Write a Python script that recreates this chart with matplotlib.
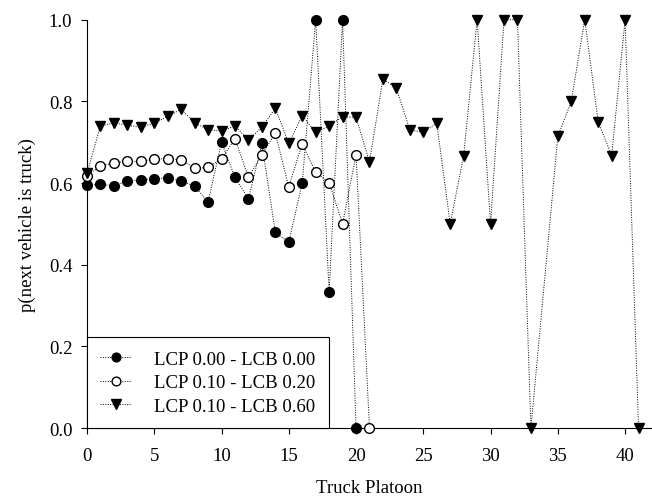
import matplotlib
matplotlib.use("Agg")
import matplotlib.pyplot as plt

plt.rcParams['font.family'] = ['Liberation Serif', 'DejaVu Serif']

# p(next vehicle is truck) per truck platoon size
x_lcp000 = list(range(0, 21))
p_lcp000 = [0.595, 0.597, 0.593, 0.605, 0.608, 0.610, 0.613, 0.604, 0.593, 0.553,
            0.700, 0.614, 0.561, 0.697, 0.479, 0.455, 0.600, 1.0, 0.333, 1.0, 0.0]

x_lcp010_020 = list(range(0, 22))
p_lcp010_020 = [0.618, 0.642, 0.649, 0.653, 0.653, 0.659, 0.659, 0.657, 0.636, 0.638,
                0.659, 0.709, 0.614, 0.669, 0.722, 0.591, 0.696, 0.626, 0.601, 0.500,
                0.669, 0.0]

x_lcp010_060 = list(range(0, 34)) + list(range(35, 42))
p_lcp010_060 = [0.624, 0.740, 0.747, 0.742, 0.736, 0.747, 0.763, 0.781, 0.747, 0.731,
                0.727, 0.740, 0.705, 0.737, 0.783, 0.697, 0.765, 0.724, 0.740, 0.762,
                0.761, 0.652, 0.855, 0.832, 0.730, 0.724, 0.747, 0.5, 0.667, 1.0,
                0.5, 1.0, 1.0, 0.0,
                0.714, 0.8, 1.0, 0.75, 0.667, 1.0, 0.0]

labels = ["LCP 0.00 - LCB 0.00", "LCP 0.10 - LCB 0.20", "LCP 0.10 - LCB 0.60"]

fig = plt.figure(figsize=(6.52, 5.02), dpi=100)
ax = fig.add_axes([0.1334, 0.1454, 0.8666, 0.8134])

line_kw = dict(linestyle=(0, (1, 1.5)), color='black', linewidth=0.7,
               clip_on=False, zorder=3)
ax.plot(x_lcp000, p_lcp000, marker='o', markersize=7, markerfacecolor='black',
        markeredgecolor='black', label=labels[0], **line_kw)
ax.plot(x_lcp010_020, p_lcp010_020, marker='o', markersize=7, markerfacecolor='white',
        markeredgecolor='black', label=labels[1], **line_kw)
ax.plot(x_lcp010_060, p_lcp010_060, marker='v', markersize=7.5, markerfacecolor='black',
        markeredgecolor='black', label=labels[2], **line_kw)

ax.set_xlim(0, 42)
ax.set_ylim(0, 1.0)
ax.set_xticks([0, 5, 10, 15, 20, 25, 30, 35, 40])
ax.set_yticks([0.0, 0.2, 0.4, 0.6, 0.8, 1.0])
ax.set_yticklabels(["0.0", "0.2", "0.4", "0.6", "0.8", "1.0"])

ax.spines['top'].set_visible(False)
ax.spines['right'].set_visible(False)
ax.tick_params(direction='out', length=4.5, width=0.8, labelsize=13.5)
ax.tick_params(axis='x', pad=9)
ax.tick_params(axis='y', pad=6)

ax.set_xlabel("Truck Platoon", fontsize=13.5, labelpad=11)
ax.set_ylabel("p(next vehicle is truck)", fontsize=13.5, labelpad=9)

leg = ax.legend(loc='lower left', bbox_to_anchor=(0, 0), borderaxespad=0,
                fancybox=False, edgecolor='black', framealpha=1, fontsize=13.5,
                handlelength=1.65, handletextpad=1.25, labelspacing=0.35,
                borderpad=0.7, markerscale=0.9)
leg.get_frame().set_linewidth(0.8)

fig.savefig("out.png", dpi=100)
